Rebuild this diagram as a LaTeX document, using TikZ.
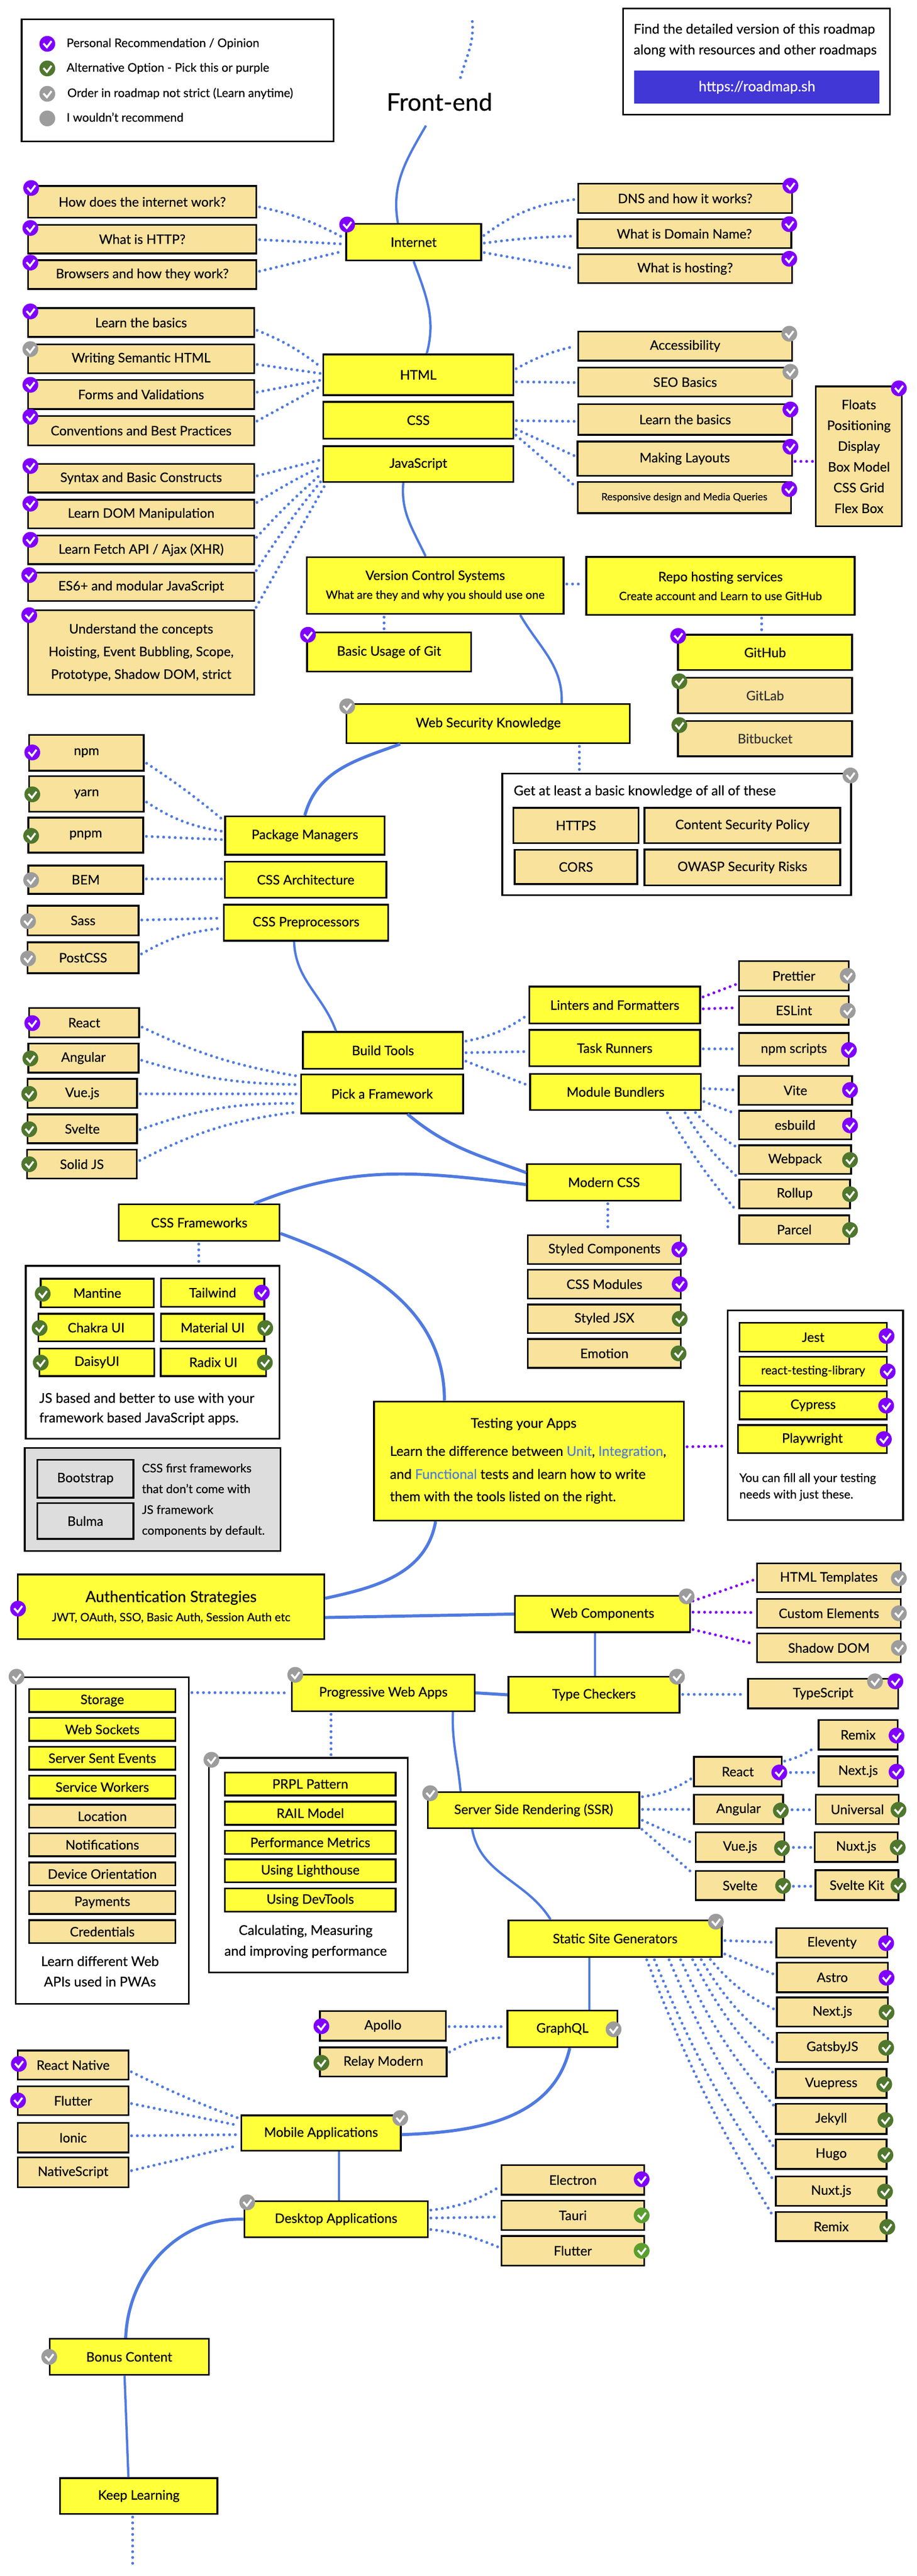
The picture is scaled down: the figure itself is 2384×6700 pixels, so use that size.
\documentclass[tikz,border=0pt]{standalone}
\usepackage{fontspec}
\setmainfont{Lato}[FakeBold=0.35]
\definecolor{topicyellow}{HTML}{FFFF3A}
\definecolor{subtan}{HTML}{F8E29C}
\definecolor{linkblue}{HTML}{4F7AE0}
\definecolor{recpurple}{HTML}{8000FF}
\definecolor{altgreen}{HTML}{4F772D}
\definecolor{brightgreen}{HTML}{5A9E2F}
\definecolor{anygray}{HTML}{9C9C9C}
\definecolor{panelgray}{HTML}{DDDDDD}
\definecolor{siteblue}{HTML}{4136D6}
\definecolor{fadedtext}{HTML}{333333}
\tikzset{
	topic/.style={draw=black,line width=4.5pt,fill=topicyellow,inner sep=0pt,align=center,font=\fontsize{34}{54}\selectfont},
	subtopic/.style={topic,fill=subtan},
	graybox/.style={topic,fill=panelgray},
	panel/.style={draw=black,line width=4.5pt,fill=white,inner sep=0pt},
	note/.style={inner sep=0pt,anchor=west,text height=24pt,text depth=7pt,font=\fontsize{31}{40}\selectfont},
	widenote/.style={note,font=\fontsize{35}{40}\selectfont},
	midnote/.style={widenote,anchor=center},
	chk/.style={circle,fill=#1,minimum size=41pt,inner sep=0pt,path picture={
		\draw[white,line width=5pt] ([shift={(-10pt,1pt)}]path picture bounding box.center) -- ([shift={(-1pt,-9pt)}]path picture bounding box.center) -- ([shift={(11pt,7pt)}]path picture bounding box.center);}},
	road/.style={linkblue,line width=6pt},
	thickroad/.style={road,line width=8pt},
	link/.style={linkblue,line width=7.5pt,line cap=round,dash pattern=on 0pt off 15pt,shorten <=6pt,shorten >=6pt},
	purplelink/.style={link,recpurple}
}
\begin{document}
\begin{tikzpicture}[x=1pt,y=-1pt]
\useasboundingbox (0,0) rectangle (2384,6700);
\foreach \nm/\cx/\cy/\bw/\bh in {legend/462/209/811/318,findbox/1968/160/694/276,getbox/1760/2170/907/316,fwbox/397/3517/660/449,testbox/2121/3681/456/545,pwabox/266/4787/450/849,perfbox/802/4851/517/558}
	\node[panel,minimum width=\bw pt,minimum height=\bh pt] (\nm) at (\cx,\cy) {};
\node[panel,fill=panelgray,minimum width=665pt,minimum height=268pt] (greybox) at (397,3900) {};
\node[minimum width=638pt,minimum height=86pt,inner sep=0pt,fill=siteblue,text=white,font=\fontsize{37}{40}\selectfont] (site) at (1969,227) {https://roadmap.sh};
\node[inner sep=0pt,font=\fontsize{63}{66}\selectfont] (title) at (1143,265) {Front-end};
\foreach \nm/\cx/\cy/\bw/\bh/\lbl in {
	inet/1076/630/351/95/Internet,html/1088/975/494/106/HTML,css/1088/1093/494/96/CSS,js/1088/1207/494/93/JavaScript,
	vcs/1132/1523/668/148/{Version Control Systems\\[-5pt]{\fontsize{30}{36}\selectfont What are they and why you should use one}},
	repo/1874/1524/698/151/{Repo hosting services\\[-5pt]{\fontsize{30}{36}\selectfont Create account and Learn to use GitHub}},
	basicgit/1012/1696/427/102/Basic Usage of Git,github/1990/1697/453/92/GitHub,web/1270/1882/737/102/Web Security Knowledge,
	pkg/793/2173/415/100/Package Managers,arch/795/2288/420/94/CSS Architecture,pre/796/2400/428/94/CSS Preprocessors,
	build/996/2732/416/96/Build Tools,pick/994/2845/421/101/Pick a Framework,linters/1599/2614/444/96/Linters and Formatters,
	task/1599/2726/444/95/Task Runners,module/1601/2840/444/94/Module Bundlers,modern/1571/3075/400/95/Modern CSS,cssfw/518/3180/418/95/CSS Frameworks,
	mantine/253/3363/294/74/Mantine,tailwind/553/3362/269/74/Tailwind,chakra/250/3453/300/72/Chakra UI,material/553/3453/269/72/Material UI,daisy/252/3543/299/72/DaisyUI,radix/555/3543/274/72/Radix UI,
	testing/1376/3800/806/310/{},jest/2115/3478/383/75/Jest,rtl/2115/3566/383/75/{\fontsize{31}{40}\selectfont react-testing-library},cypress/2115/3655/383/73/Cypress,playwright/2113/3743/387/73/Playwright,
	auth/445/4179/797/168/{{\fontsize{40}{50}\selectfont Authentication Strategies}\\[-4pt]{\fontsize{30}{36}\selectfont JWT, OAuth, SSO, Basic Auth, Session Auth etc}},
	webc/1567/4198/455/94/Web Components,typec/1545/4408/445/94/Type Checkers,prog/997/4403/475/95/Progressive Web Apps,
	storage/266/4423/380/60/Storage,sockets/266/4498/380/60/Web Sockets,sse/266/4573/380/60/Server Sent Events,workers/266/4648/380/60/Service Workers,
	prpl/807/4640/444/60/PRPL Pattern,rail/807/4716/444/60/RAIL Model,metrics/807/4792/444/60/Performance Metrics,lighthouse/807/4866/444/60/Using Lighthouse,devtools/807/4942/444/60/Using DevTools,
	ssr/1388/4708/550/93/Server Side Rendering (SSR),static/1600/5042/555/95/Static Site Generators,graphql/1463/5277/286/95/GraphQL,
	mobile/835/5548/415/92/Mobile Applications,desktop/874/5772/477/93/Desktop Applications,bonus/336/6130/414/94/Bonus Content,keep/361/6492/409/93/Keep Learning}
	\node[topic,minimum width=\bw pt,minimum height=\bh pt] (\nm) at (\cx,\cy) {\lbl};
\foreach \nm/\cx/\cy/\bw/\bh/\lbl in {
	how/370/525/594/83/How does the internet work?,http/370/622/594/75/What is HTTP?,browsers/370/714/594/75/Browsers and how they work?,
	dns/1782/516/556/76/DNS and how it works?,domain/1780/608/556/75/What is Domain Name?,hosting/1782/699/556/75/What is hosting?,
	learn/367/839/588/75/Learn the basics,semantic/367/933/588/75/Writing Semantic HTML,forms/367/1026/588/76/Forms and Validations,conventions/367/1120/588/76/Conventions and Best Practices,
	access/1782/900/556/76/Accessibility,seo/1782/994/556/75/SEO Basics,learnr/1782/1091/556/80/Learn the basics,layouts/1781/1193/558/89/Making Layouts,
	responsive/1780/1294/555/81/{\fontsize{26}{30}\selectfont Responsive design and Media Queries},
	floats/2234/1187/224/364/{Floats\\Positioning\\Display\\Box Model\\CSS Grid\\Flex Box},
	syntax/367/1244/588/74/Syntax and Basic Constructs,dom/367/1337/588/74/Learn DOM Manipulation,fetchapi/367/1430/588/75/{Learn Fetch API / Ajax (XHR)},es6/367/1526/588/74/ES6+ and modular JavaScript,
	understand/367/1697/588/220/{Understand the concepts\\[5pt]Hoisting, Event Bubbling, Scope,\\[5pt]Prototype, Shadow DOM, strict},
	gitlab/1990/1809/453/92/\textcolor{fadedtext}{GitLab},bitbucket/1990/1921/453/92/\textcolor{fadedtext}{Bitbucket},
	https/1498/2147/325/92/HTTPS,csp/1931/2147/509/92/Content Security Policy,cors/1498/2255/319/89/CORS,owasp/1931/2256/509/93/OWASP Security Risks,
	npm/225/1958/298/93/npm,yarn/225/2065/298/93/yarn,pnpm/223/2172/299/91/pnpm,bem/223/2288/299/74/BEM,sass/216/2394/289/77/Sass,postcss/216/2491/289/80/PostCSS,
	prettier/2065/2538/285/76/Prettier,eslint/2065/2628/285/74/ESLint,npmscripts/2065/2729/285/85/npm scripts,vite/2069/2836/295/75/Vite,esbuild/2068/2926/292/74/esbuild,webpack/2068/3016/291/74/Webpack,rollup/2067/3105/288/75/Rollup,parcel/2066/3198/286/74/Parcel,
	react/219/2660/286/76/React,angular/217/2752/287/76/Angular,vue/214/2844/285/76/Vue.js,svelte/214/2936/285/75/Svelte,solid/213/3028/286/75/Solid JS,
	styled/1572/3250/398/75/Styled Components,cssmod/1572/3340/398/75/CSS Modules,styledjsx/1572/3430/398/74/Styled JSX,emotion/1572/3520/398/75/Emotion,
	htmlt/2156/4104/374/75/HTML Templates,custom/2156/4196/374/75/Custom Elements,shadow/2156/4286/374/75/Shadow DOM,typescript/2141/4405/391/77/TypeScript,
	location/266/4724/380/60/Location,notifications/266/4798/380/60/Notifications,orientation/266/4874/380/60/Device Orientation,payments/266/4948/380/60/Payments,credentials/266/5024/380/60/Credentials,
	reactb/1919/4608/228/77/React,angularb/1921/4706/232/77/Angular,vueb/1925/4804/231/77/Vue.js,svelteb/1925/4904/231/76/Svelte,
	remixa/2232/4512/206/77/Remix,nexta/2232/4607/206/78/Next.js,universal/2230/4706/216/77/Universal,nuxta/2227/4804/216/77/Nuxt.js,sveltekit/2229/4903/216/78/Svelte Kit,
	eleventy/2164/5053/289/77/Eleventy,astro/2165/5143/289/77/Astro,nextb/2165/5233/289/76/Next.js,gatsby/2165/5325/289/77/GatsbyJS,vuepress/2162/5419/288/75/Vuepress,jekyll/2162/5511/288/78/Jekyll,hugo/2162/5603/288/77/Hugo,nuxtb/2162/5699/288/76/Nuxt.js,remixb/2162/5791/288/76/Remix,
	apollo/996/5269/328/77/Apollo,relay/997/5363/330/76/Relay Modern,rnative/190/5371/288/76/React Native,flutter/190/5464/288/75/Flutter,ionic/190/5560/288/77/Ionic,nativescript/190/5650/288/77/NativeScript,
	electron/1490/5670/371/77/Electron,tauri/1490/5762/371/77/Tauri,flutterd/1490/5854/371/77/Flutter}
	\node[subtopic,minimum width=\bw pt,minimum height=\bh pt] (\nm) at (\cx,\cy) {\lbl};
\node[graybox,minimum width=250pt,minimum height=99pt] (bootstrap) at (222,3846) {Bootstrap};
\node[graybox,minimum width=250pt,minimum height=93pt] (bulma) at (222,3956) {Bulma};
\foreach \nm/\cx/\cy/\lbl in {
	recnote/173/114/{Personal Recommendation / Opinion},altnote/173/178/Alternative Option - Pick this or purple,ordernote/175/244/Order in roadmap not strict (Learn anytime),nonote/173/308/I wouldn't recommend,
	greynote/369/3821/CSS first frameworks,greynoteb/369/3875/that don't come with,greynotec/369/3929/JS framework,greynoted/369/3983/components by default.,
	testnote/1923/3846/You can fill all your testing,testnoteb/1923/3889/needs with just these.}
	\node[note] (\nm) at (\cx,\cy) {\lbl};
\foreach \nm/\cx/\cy/\lbl in {
	findnote/1648/79/Find the detailed version of this roadmap,findnoteb/1648/133/along with resources and other roadmaps,getnote/1336/2060/Get at least a basic knowledge of all of these,
	fwnote/102/3640/JS based and better to use with your,fwnoteb/102/3691/framework based JavaScript apps.,
	testingb/1014/3778/{Learn the difference between \textcolor{linkblue}{Unit}, \textcolor{linkblue}{Integration},},
	testingc/1014/3838/{and \textcolor{linkblue}{Functional} tests and learn how to write},
	testingd/1014/3896/them with the tools listed on the right.}
	\node[widenote] (\nm) at (\cx,\cy) {\lbl};
\foreach \nm/\cx/\cy/\lbl in {testinga/1362/3705/Testing your Apps,pwanote/260/5105/Learn different Web,pwanoteb/260/5158/APIs used in PWAs,perfnote/795/5024/{Calculating, Measuring},perfnoteb/795/5078/and improving performance}
	\node[midnote] (\nm) at (\cx,\cy) {\lbl};
\coordinate (topstart) at (1228,50);
\coordinate (topend) at (1195,212);
\coordinate (bottomend) at (345,6679);
\draw[link] (topstart) to[out=-85,in=75] (topend);
\draw[road] ([xshift=-35pt,yshift=-38pt]title.south) to[out=240,in=100] ([xshift=-41pt]inet.north);
\draw[road] ([xshift=0pt]inet.south) to[out=-70,in=75] ([xshift=22pt]html.north);
\draw[road] ([xshift=-39pt]js.south) to[out=-95,in=115] ([xshift=-25pt]vcs.north);
\draw[road] ([xshift=221pt]vcs.south) to[out=-60,in=88] ([xshift=191pt]web.north);
\draw[thickroad] ([xshift=-229pt]web.south) to[out=200,in=75] (pkg.north);
\draw[road] ([xshift=-31pt]pre.south) to[out=-88,in=110] ([xshift=-122pt]build.north);
\draw[thickroad] ([xshift=66pt]pick.south) to[out=-40,in=160] ([yshift=25pt]modern.west);
\draw[thickroad] ([yshift=-6pt]modern.west) to[out=173,in=22] ([xshift=143pt]cssfw.north);
\draw[thickroad] ([yshift=-28pt]cssfw.east) to[out=-20,in=90] ([xshift=-220pt]testing.north);
\draw[thickroad] ([xshift=-243pt]testing.south) to[out=-100,in=12] ([yshift=22pt]auth.east);
\draw[thickroad] ([yshift=-28pt]auth.east) -- (webc.west);
\draw[road] ([xshift=-19pt]webc.south) -- ([xshift=3pt]typec.north);
\draw[thickroad] (prog.east) -- (typec.west);
\draw[road] ([xshift=181pt]prog.south) to[out=-92,in=95] ([xshift=-190pt]ssr.north);
\draw[road] ([xshift=-160pt]ssr.south) to[out=-80,in=122] ([xshift=-168pt]static.north);
\draw[road] ([xshift=-67pt]static.south) -- ([xshift=70pt]graphql.north);
\draw[thickroad] ([xshift=19pt]graphql.south) to[out=-103,in=2] ([yshift=-4pt]mobile.east);
\draw[road] ([xshift=47pt]mobile.south) -- ([xshift=8pt]desktop.north);
\draw[thickroad] (desktop.west) to[out=178,in=88] ([xshift=-9pt]bonus.north);
\draw[road] ([xshift=-12pt]bonus.south) -- ([xshift=-27pt]keep.north);
\foreach \a/\b/\sa/\sb/\bd in {
	how/inet/-12/9/8,http/inet/-1/-5/0,browsers/inet/7/-22/0,inet/dns/14/-2/15,inet/domain/-3/-6/3,inet/hosting/-26/-1/0,
	learn/html/-18/17/8,semantic/html/-14/3/0,forms/html/5/-13/0,conventions/html/22/-27/0,html/access/13/1/8,html/seo/-18/-1/0,
	css/learnr/-1/-5/0,css/layouts/-21/5/0,css/responsive/-35/26/0,syntax/js/5/12/0,dom/js/27/-5/3,fetchapi/js/28/-23/3,es6/js/37/-40/3,
	vcs/repo/4/5/0,npm/pkg/-24/38/3,yarn/pkg/-18/10/-12,pnpm/pkg/-3/-11/0,bem/arch/2/2/0,sass/pre/1/12/0,postcss/pre/7/-14/12,
	build/linters/23/-24/-12,build/task/-6/-9/0,build/module/-26/16/0,task/npmscripts/-2/1/0,module/vite/9/1/0,module/esbuild/-23/27/0,
	react/pick/-9/45/-8,angular/pick/-4/24/-8,vue/pick/-1/0/0,svelte/pick/-4/-25/10,solid/pick/7/-46/10,
	ssr/reactb/34/-15/-12,ssr/angularb/2/0/0,ssr/vueb/-24/8/0,ssr/svelteb/-46/27/0,reactb/remixa/26/-28/-10,reactb/nexta/-2/-3/0,angularb/universal/-1/-1/0,vueb/nuxta/-1/-1/0,svelteb/sveltekit/-2/-3/0,
	static/eleventy/-5/1/0,static/astro/-38/6/0,apollo/graphql/-2/6/0,relay/graphql/23/-23/15,typec/typescript/1/-2/0,
	rnative/mobile/-15/37/-3,flutter/mobile/-6/19/0,ionic/mobile/5/-4/0,nativescript/mobile/3/-31/0,
	desktop/electron/23/-16/-12,desktop/tauri/3/-4/0,desktop/flutterd/-26/7/8}
	\draw[link] ([yshift=\sa pt]\a.east) to[bend left=\bd] ([yshift=\sb pt]\b.west);
\foreach \a/\b/\sa/\sb/\bd in {
	module/webpack/204/30/-8,module/rollup/178/41/-8,module/parcel/132/43/-5,
	static/nextb/244/5/-12,static/gatsby/221/6/-10,static/vuepress/199/23/-8,static/jekyll/168/31/-8,static/hugo/138/15/-6,static/nuxtb/100/23/-6,static/remixb/80/19/-5}
	\draw[link] ([xshift=\sa pt]\a.south) to[bend left=\bd] ([yshift=\sb pt]\b.west);
\foreach \a/\b/\sa/\sb in {vcs/basicgit/-133/-13,repo/github/107/-9,web/getbox/237/-253,modern/styled/10/9,cssfw/fwbox/-1/120,prog/perfbox/-136/59}
	\draw[link] ([xshift=\sa pt]\a.south) -- ([xshift=\sb pt]\b.north);
\draw[link] (understand.north east) -- ([xshift=10pt]js.south west);
\draw[link] ([yshift=-42pt]pwabox.north east) -- (prog.west);
\draw[link] ([xshift=-16pt]keep.south) -- (bottomend);
\foreach \a/\b/\sa/\sb in {layouts/floats/-7/-13,linters/prettier/19/-20,linters/eslint/-10/7,testing/testbox/37/-80,webc/htmlt/32/-3,webc/custom/5/2,webc/shadow/-39/9}
	\draw[purplelink] ([yshift=\sa pt]\a.east) -- ([yshift=\sb pt]\b.west);
\foreach \nm/\cx/\cy in {
	recmark/123/114,chkinet/903/584,chkhow/81/489,chkhttp/79/593,chkbrowsers/79/683,chkdns/2056/483,chkdomain/2053/583,chkhosting/2053/673,
	chklearn/79/810,chkforms/79/1001,chkconv/79/1084,chklearnr/2056/1065,chkfloats/2338/1010,chklayouts/2056/1162,chkresp/2053/1272,
	chksyntax/79/1212,chkdom/79/1310,chkfetch/79/1404,chkes/76/1496,chkunder/76/1600,chkbasic/801/1651,chkgithub/1764/1654,chknpm/84/1957,
	chknpms/2208/2731,chkvite/2211/2835,chkesbuild/2211/2927,chkreact/84/2661,chkstyled/1767/3250,chkmod/1768/3340,chktail/681/3362,
	chkjest/2306/3475,chkrtl/2309/3567,chkcypress/2305/3656,chkplay/2299/3743,chkauth/47/4184,chkts/2329/4373,
	chkreactb/2027/4610,chkremixa/2332/4514,chknexta/2332/4608,chkeleventy/2305/5054,chkastro/2306/5144,chkapollo/836/5270,chkrn/49/5368,chkflutter/47/5463,chkelectron/1669/5668}
	\node[chk=recpurple] (\nm) at (\cx,\cy) {};
\foreach \nm/\cx/\cy in {
	altmark/123/178,chkgitlab/1767/1772,chkbitbucket/1767/1886,chkyarn/84/2066,chkpnpm/81/2174,chkwebpack/2211/3017,chkrollup/2211/3106,chkparcel/2211/3199,
	chkangular/79/2753,chkvue/76/2845,chksvelte/76/2937,chksolid/76/3028,chkjsx/1768/3430,chkemotion/1765/3520,chkmantine/111/3365,chkchakra/103/3454,chkmaterial/690/3454,chkdaisy/106/3544,chkradix/689/3544,
	chkangularb/2031/4709,chkvueb/2034/4807,chksvelteb/2037/4905,chkuniversal/2337/4707,chknuxta/2335/4805,chkkit/2337/4904,
	chknextb/2306/5234,chkgatsby/2305/5326,chkvuepress/2300/5421,chkjekyll/2303/5514,chkhugo/2303/5605,chknuxtb/2302/5700,chkremixb/2308/5792,chkrelay/836/5365}
	\node[chk=altgreen] (\nm) at (\cx,\cy) {};
\foreach \nm/\cx/\cy in {chktauri/1669/5762,chkflutterd/1669/5854}
	\node[chk=brightgreen] (\nm) at (\cx,\cy) {};
\foreach \nm/\cx/\cy in {
	ordermark/123/244,chksemantic/79/908,chkaccess/2053/868,chkseo/2056/967,chkweb/903/1837,chkget/2212/2017,chkbem/81/2289,chksass/73/2396,chkpost/73/2493,
	chkprettier/2205/2538,chkeslint/2205/2629,chkhtmlt/2338/4105,chkcustom/2338/4196,chkshadow/2338/4286,chkwebc/1786/4152,chktypec/1761/4361,chkprog/768/4356,chkpwa/43/4361,chktsb/2276/4373,
	chkperf/550/4577,chkssr/1119/4664,chkstatic/1862/4998,chkgraphql/1596/5278,chkmobile/1041/5509,chkdesktop/643/5728,chkbonus/128/6130}
	\node[chk=anygray] (\nm) at (\cx,\cy) {};
\node[circle,fill=anygray,minimum size=41pt,inner sep=0pt] (nomark) at (123,308) {};
\end{tikzpicture}
\end{document}
